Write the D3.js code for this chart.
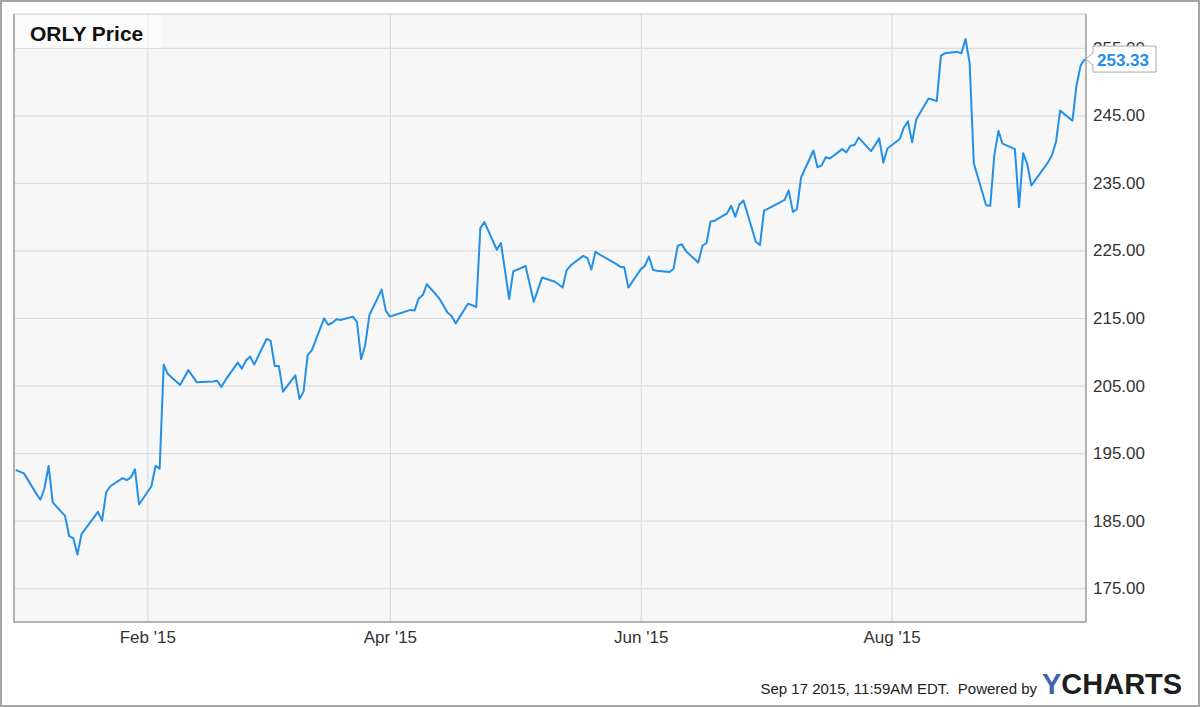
<!DOCTYPE html>
<html>
<head>
<meta charset="utf-8">
<script src="https://cdn.jsdelivr.net/npm/d3@7"></script>
<style>
  html, body { margin: 0; padding: 0; background: #fff; }
  svg { display: block; }
  text { font-family: "Liberation Sans", Arial, sans-serif; }
</style>
</head>
<body>
<svg id="chart" width="1200" height="707"></svg>
<script>
// ---- data ----
const dates = [
"2014-12-31","2015-01-02","2015-01-05","2015-01-06","2015-01-07","2015-01-08","2015-01-09",
"2015-01-12","2015-01-13","2015-01-14","2015-01-15","2015-01-16","2015-01-20","2015-01-21",
"2015-01-22","2015-01-23","2015-01-26","2015-01-27","2015-01-28","2015-01-29","2015-01-30",
"2015-02-02","2015-02-03","2015-02-04","2015-02-05","2015-02-06","2015-02-09","2015-02-10",
"2015-02-11","2015-02-12","2015-02-13","2015-02-17","2015-02-18","2015-02-19","2015-02-20",
"2015-02-23","2015-02-24","2015-02-25","2015-02-26","2015-02-27","2015-03-02","2015-03-03",
"2015-03-04","2015-03-05","2015-03-06","2015-03-09","2015-03-10","2015-03-11","2015-03-12",
"2015-03-13","2015-03-16","2015-03-17","2015-03-18","2015-03-19","2015-03-20","2015-03-23",
"2015-03-24","2015-03-25","2015-03-26","2015-03-27","2015-03-30","2015-03-31","2015-04-01",
"2015-04-02","2015-04-06","2015-04-07","2015-04-08","2015-04-09","2015-04-10","2015-04-13",
"2015-04-14","2015-04-15","2015-04-16","2015-04-17","2015-04-20","2015-04-21","2015-04-22",
"2015-04-23","2015-04-24","2015-04-27","2015-04-28","2015-04-29","2015-04-30","2015-05-01",
"2015-05-04","2015-05-05","2015-05-06","2015-05-07","2015-05-08","2015-05-11","2015-05-12",
"2015-05-13","2015-05-14","2015-05-15","2015-05-18","2015-05-19","2015-05-20","2015-05-21",
"2015-05-22","2015-05-26","2015-05-27","2015-05-28","2015-05-29","2015-06-01","2015-06-02",
"2015-06-03","2015-06-04","2015-06-05","2015-06-08","2015-06-09","2015-06-10","2015-06-11",
"2015-06-12","2015-06-15","2015-06-16","2015-06-17","2015-06-18","2015-06-19","2015-06-22",
"2015-06-23","2015-06-24","2015-06-25","2015-06-26","2015-06-29","2015-06-30","2015-07-01",
"2015-07-02","2015-07-06","2015-07-07","2015-07-08","2015-07-09","2015-07-10","2015-07-13",
"2015-07-14","2015-07-15","2015-07-16","2015-07-17","2015-07-20","2015-07-21","2015-07-22",
"2015-07-23","2015-07-24","2015-07-27","2015-07-28","2015-07-29","2015-07-30","2015-07-31",
"2015-08-03","2015-08-04","2015-08-05","2015-08-06","2015-08-07","2015-08-10","2015-08-11",
"2015-08-12","2015-08-13","2015-08-14","2015-08-17","2015-08-18","2015-08-19","2015-08-20",
"2015-08-21","2015-08-24","2015-08-25","2015-08-26","2015-08-27","2015-08-28","2015-08-31",
"2015-09-01","2015-09-02","2015-09-03","2015-09-04","2015-09-08","2015-09-09","2015-09-10",
"2015-09-11","2015-09-14","2015-09-15","2015-09-16","2015-09-17"
];
const prices = [
192.5,192.0,189.0,188.1,189.8,193.1,187.7,
185.7,182.7,182.4,180.0,183.0,186.3,185.0,
189.2,190.1,191.3,191.0,191.4,192.6,187.4,
190.1,193.1,192.7,208.1,206.7,205.1,206.2,
207.3,206.4,205.5,205.6,205.7,204.8,205.8,
208.4,207.5,208.7,209.3,208.1,211.9,211.6,
207.9,207.9,204.1,206.5,203.0,204.1,209.5,
210.2,214.95,214.0,214.3,214.8,214.7,215.2,
214.4,208.9,211.0,215.4,219.2,216.1,215.2,
215.4,216.2,216.1,217.9,218.4,220.0,217.9,
216.9,215.8,215.3,214.2,217.1,216.9,216.6,
228.3,229.2,225.1,226.1,222.0,217.8,221.9,
222.7,220.0,217.4,219.2,221.0,220.4,220.0,
219.5,222.1,222.8,224.2,223.9,222.2,224.8,
224.4,223.0,222.6,222.5,219.5,222.2,222.7,
224.1,222.1,222.0,221.8,222.3,225.7,225.9,
224.9,223.2,225.7,226.1,229.3,229.4,230.5,
231.6,230.0,231.8,232.4,226.3,225.8,230.9,
231.2,232.5,233.9,230.7,231.1,235.8,239.8,
237.3,237.6,238.8,238.6,240.0,239.5,240.5,
240.6,241.7,239.7,240.6,241.6,238.0,240.1,
241.5,243.2,244.1,241.0,244.4,247.5,247.3,
247.1,253.8,254.2,254.4,254.2,256.3,252.7,
237.9,231.7,231.6,239.1,242.7,240.8,240.0,
231.4,239.4,237.8,234.6,238.0,239.1,241.1,
245.7,244.2,249.5,252.4,253.33
];
const yTicks = [175, 185, 195, 205, 215, 225, 235, 245, 255];
const xTickDates = ["2015-02-01", "2015-04-01", "2015-06-01", "2015-08-01"];
const title = "ORLY Price";
const lastLabel = "253.33";
const footerText = "Sep 17 2015, 11:59AM EDT.  Powered by";

// ---- layout ----
const svg = d3.select("#chart");
const W = 1200, H = 707;
const plot = { left: 14, right: 1086, top: 14, bottom: 622 };
const parse = d3.timeParse("%Y-%m-%d");
const data = dates.map((d, i) => ({ date: parse(d), value: prices[i] }));

const x = d3.scaleTime()
  .domain([new Date(2014, 11, 30, 14), new Date(2015, 8, 17, 7)])
  .range([plot.left, plot.right]);
const y = d3.scaleLinear()
  .domain([170, 260])
  .range([plot.bottom, plot.top]);

// outer frame
svg.append("rect").attr("x", 1).attr("y", 1).attr("width", W - 2).attr("height", H - 2)
  .attr("fill", "#fff").attr("stroke", "#a6a6a6").attr("stroke-width", 2);

// plot background
svg.append("rect").attr("x", plot.left).attr("y", plot.top)
  .attr("width", plot.right - plot.left).attr("height", plot.bottom - plot.top)
  .attr("fill", "#f7f7f7");

// horizontal gridlines
const gy = svg.append("g").attr("transform", `translate(${plot.left},0)`)
  .call(d3.axisRight(y).tickValues(yTicks).tickSize(plot.right - plot.left).tickFormat(""));
gy.select(".domain").remove();
gy.selectAll("line").attr("stroke", "#dcdcdc").attr("stroke-width", 1.2);

// vertical gridlines
const xTicks = xTickDates.map(parse);
const gx = svg.append("g").attr("transform", `translate(0,${plot.bottom})`)
  .call(d3.axisBottom(x).tickValues(xTicks).tickSize(-(plot.bottom - plot.top)).tickFormat(""));
gx.select(".domain").remove();
gx.selectAll("line").attr("stroke", "#dcdcdc").attr("stroke-width", 1.2);

// title box
svg.append("rect").attr("x", plot.left + 1).attr("y", plot.top + 1)
  .attr("width", 146).attr("height", 33)
  .attr("fill", "#ffffff").attr("fill-opacity", 0.55);
svg.append("text").attr("x", 30).attr("y", 41)
  .attr("font-size", 21).attr("font-weight", "bold").attr("fill", "#111")
  .text(title);

// price line
const line = d3.line().x(d => x(d.date)).y(d => y(d.value));
svg.append("path").datum(data)
  .attr("d", line)
  .attr("fill", "none")
  .attr("stroke", "#2290e8")
  .attr("stroke-width", 2)
  .attr("stroke-linejoin", "round");

// plot border
svg.append("path")
  .attr("d", `M${plot.left},${plot.top}V${plot.bottom}H${plot.right}V${plot.top}`)
  .attr("fill", "none").attr("stroke", "#9a9a9a").attr("stroke-width", 1.5);
svg.append("line").attr("x1", plot.left).attr("x2", plot.right)
  .attr("y1", plot.top).attr("y2", plot.top)
  .attr("stroke", "#c8c8c8").attr("stroke-width", 1);

// y axis labels (right)
const ya = svg.append("g").attr("transform", `translate(${plot.right},0)`)
  .call(d3.axisRight(y).tickValues(yTicks).tickSize(0).tickPadding(7).tickFormat(d3.format(".2f")));
ya.select(".domain").remove();
ya.selectAll("text").attr("font-size", 17).attr("fill", "#333")
  .attr("font-family", "'Liberation Sans', Arial, sans-serif");

// x axis labels
const xa = svg.append("g").attr("transform", `translate(0,${plot.bottom})`)
  .call(d3.axisBottom(x).tickValues(xTicks).tickSize(0).tickFormat(d3.timeFormat("%b '%y")));
xa.select(".domain").remove();
xa.selectAll("text").attr("y", 21).attr("dy", 0).attr("font-size", 17).attr("fill", "#333")
  .attr("font-family", "'Liberation Sans', Arial, sans-serif");

// last value label with pointer
const last = data[data.length - 1];
const ly = y(last.value);
const bx = 1093, bw = 63, bh = 26;
svg.append("path")
  .attr("d", `M${x(last.date) + 1},${ly} L${bx},${ly - 6} V${ly - 13} H${bx + bw} V${ly + 13} H${bx} V${ly + 6} Z`)
  .attr("fill", "#fff").attr("stroke", "#a9a9a9").attr("stroke-width", 1);
svg.append("text").attr("x", bx + 4).attr("y", ly + 6.5)
  .attr("font-size", 17).attr("font-weight", "bold").attr("fill", "#2290e8")
  .text(lastLabel);

// footer
svg.append("text").attr("x", 1037).attr("y", 694).attr("text-anchor", "end")
  .attr("font-size", 15).attr("fill", "#222").style("white-space", "pre")
  .text(footerText);
const logo = svg.append("text").attr("x", 1042).attr("y", 694)
  .attr("font-size", 29).attr("font-weight", "bold").attr("fill", "#1e1e1e");
logo.append("tspan").attr("fill", "#3b64ad").text("Y");
logo.append("tspan").text("CHARTS");
</script>
</body>
</html>
